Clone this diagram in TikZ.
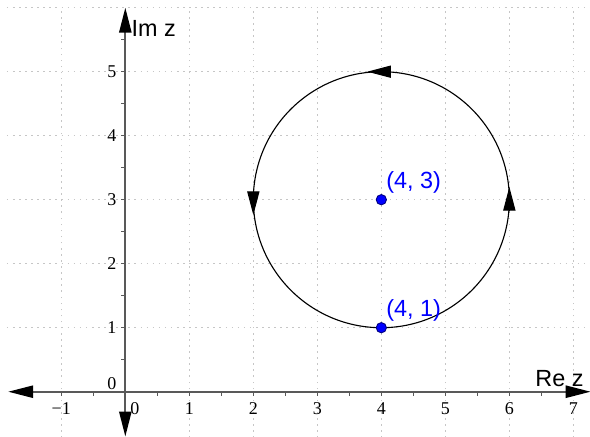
\documentclass[tikz,border=0pt]{standalone}
\usepackage{fontspec}
\setmainfont{Liberation Serif}
\setsansfont{Liberation Sans}
\usetikzlibrary{arrows.meta}
\begin{document}
\begin{tikzpicture}[x=1cm,y=1cm,
 gridline/.style={gray!45, dotted, line width=0.7pt},
 axisline/.style={gray!70!black, line width=0.9pt},
 axtick/.style={gray!70!black, line width=0.5pt},
 ticklab/.style={font=\fontsize{8}{9}\selectfont, inner sep=0pt},
 biglab/.style={font=\sffamily\fontsize{10.4}{12}\selectfont, inner sep=0pt},
 ptlab/.style={biglab, text=blue},
 pt/.style={circle, fill=blue, draw=blue!50!black, line width=0.4pt, minimum size=0.16cm, inner sep=0pt},
 curve/.style={black, line width=0.5pt},
 ctip/.style={-{Triangle[length=0.37cm,width=0.19cm]}, black, line width=0.5pt},
 axtips/.style={{Triangle[length=0.39cm,width=0.19cm,color=black]}-{Triangle[length=0.39cm,width=0.19cm,color=black]}}
]
\useasboundingbox (-1.958,-0.692) rectangle (7.26,6.12);
% grid
\foreach \x in {-1,1,2,...,7} \draw[gridline] (\x,-0.72) -- (\x,6.01);
\foreach \y in {1,...,6} \draw[gridline] (-1.85,\y) -- (7.3,\y);
% ticks
\foreach \x in {-1.5,-1,...,7} \draw[axtick] (\x,0) -- (\x,-0.06);
\foreach \y in {0.5,1,...,5.5} \draw[axtick] (0,\y) -- (-0.06,\y);
% axes
\coordinate (xl) at (-1.83,0);
\coordinate (xr) at (7.27,0);
\coordinate (yb) at (0,-0.70);
\coordinate (yt) at (0,6.0);
\draw[axisline, axtips] (xl) -- (xr);
\draw[axisline, axtips] (yb) -- (yt);
% tick labels
\foreach \x/\t in {-1/−1,1/1,2/2,3/3,4/4,5/5,6/6,7/7}
  \node[ticklab] (tx\x) at (\x,-0.27) {\t};
\node[ticklab] (tx0) at (0.15,-0.27) {0};
\foreach \y in {1,...,5}
  \node[ticklab] (ty\y) at (-0.21,\y) {\y};
\node[ticklab] (ty0) at (-0.21,0.13) {0};
% axis labels
\node[biglab, anchor=base west] (imz) at (0.09,5.55) {Im z};
\node[biglab, anchor=base west] (rez) at (6.40,0.08) {Re z};
% circle
\draw[curve] (4,3) circle (2);
\coordinate (at1) at (4.14,5);
\coordinate (ah1) at (3.78,5);
\coordinate (at2) at (2,3.12);
\coordinate (ah2) at (2,2.76);
\coordinate (at3) at (6,2.84);
\coordinate (ah3) at (6,3.20);
\draw[ctip] (at1) -- (ah1);
\draw[ctip] (at2) -- (ah2);
\draw[ctip] (at3) -- (ah3);
% points
\node[pt] (p43) at (4,3) {};
\node[pt] (p41) at (4,1) {};
\node[ptlab, anchor=south west] (l43) at (4.07,3.10) {(4, 3)};
\node[ptlab, anchor=south west] (l41) at (4.07,1.09) {(4, 1)};
\end{tikzpicture}
\end{document}
